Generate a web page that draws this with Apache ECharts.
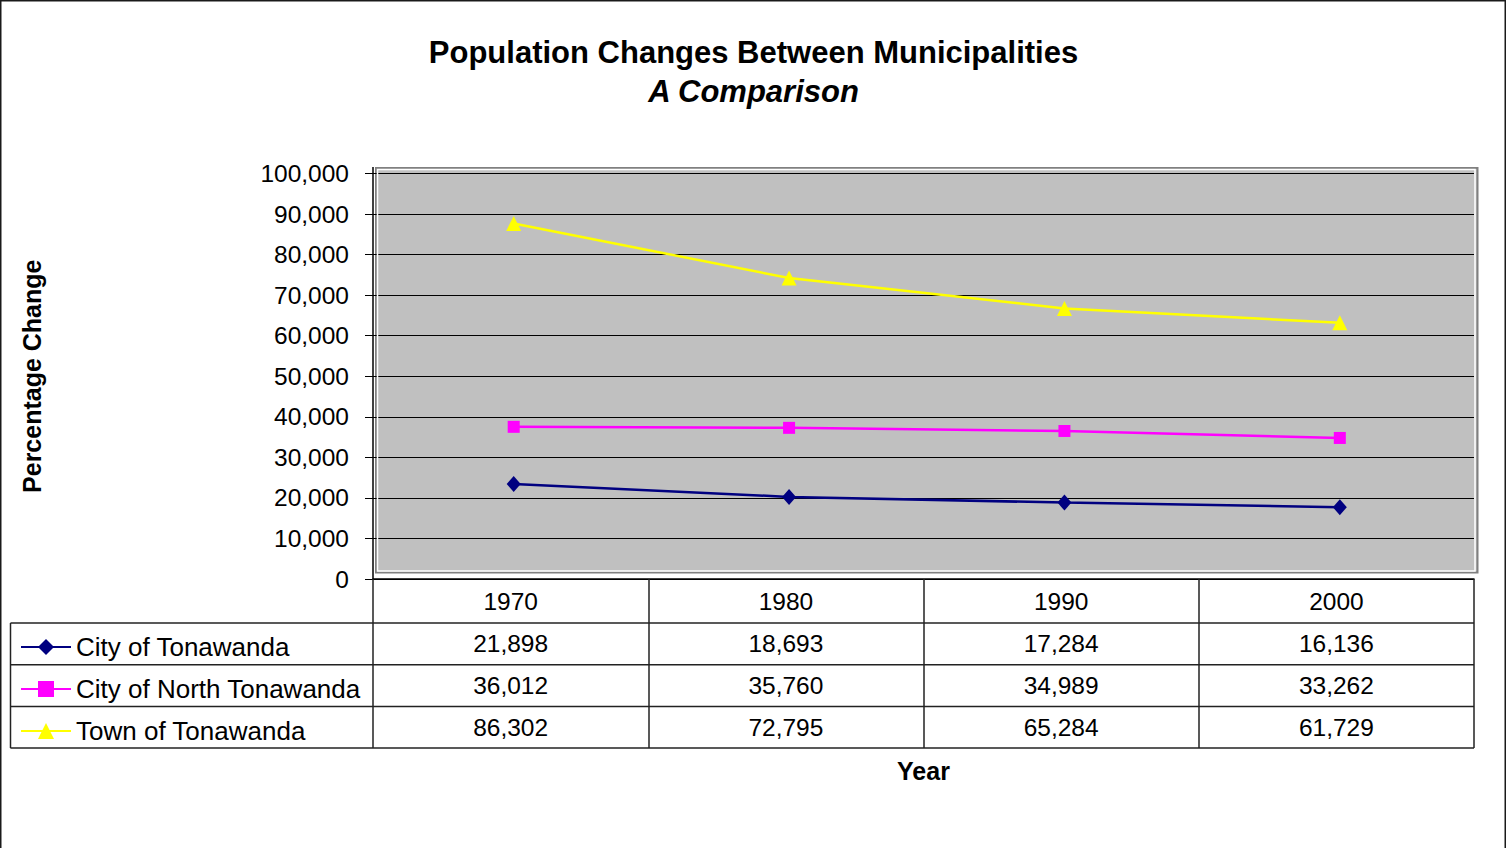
<!DOCTYPE html>
<html>
<head>
<meta charset="utf-8">
<script src="https://cdn.jsdelivr.net/npm/echarts@6/dist/echarts.min.js"></script>
<style>
  html, body { margin: 0; padding: 0; background: #fff; }
  #chart { width: 1507px; height: 848px; }
</style>
</head>
<body>
<div id="chart"></div>
<script>
const years = ['1970', '1980', '1990', '2000']
const cityOfTonawanda = [21898, 18693, 17284, 16136]
const cityOfNorthTonawanda = [36012, 35760, 34989, 33262]
const townOfTonawanda = [86302, 72795, 65284, 61729]
const seriesNames = ['City of Tonawanda', 'City of North Tonawanda', 'Town of Tonawanda']
const seriesValues = [cityOfTonawanda, cityOfNorthTonawanda, townOfTonawanda]
const seriesColors = ['#000080', '#FF00FF', '#FFFF00']
const seriesSymbols = ['diamond', 'rect', 'triangle']
const symbolSizes = [[14, 16], 12, 15]
const yMin = 0
const yMax = 100000
const yStep = 10000

const FONT = "'Liberation Sans', Arial, sans-serif"
const fmt = v => v.toLocaleString('en-US')

// table layout (pixels)
const tableTop = 579
const headerH = 44
const rowH = 41.7
const tableLeft = 10.5

const chart = echarts.init(document.getElementById('chart'), null, { renderer: 'svg' })

chart.setOption({
  animation: false,
  backgroundColor: '#fff',
  title: {
    text: 'Population Changes Between Municipalities',
    subtext: 'A Comparison',
    left: 'center',
    top: 32,
    itemGap: 8,
    textStyle: { fontFamily: FONT, fontSize: 31, fontWeight: 'bold', color: '#000' },
    subtextStyle: { fontFamily: FONT, fontSize: 31, fontWeight: 'bold', fontStyle: 'italic', color: '#000' }
  },
  legend: {
    orient: 'vertical',
    left: 15,
    top: 629,
    itemWidth: 50,
    itemHeight: 20,
    itemGap: 16,
    selectedMode: false,
    textStyle: { fontFamily: FONT, fontSize: 26, color: '#000' },
    data: seriesNames
  },
  grid: [
    // axes + table grid
    { left: 373, right: 33, top: 173.5, bottom: 848 - tableTop, show: false },
    // plot wall (shifted like the excel 3d wall)
    {
      left: 376, right: 29.5, top: 168, bottom: 275.5, show: true,
      backgroundColor: '#C0C0C0', borderColor: '#808080', borderWidth: 2
    }
  ],
  xAxis: [
    {
      type: 'category',
      gridIndex: 0,
      data: years,
      boundaryGap: true,
      name: 'Year',
      nameLocation: 'middle',
      nameGap: 179,
      nameTextStyle: { fontFamily: FONT, fontSize: 25, fontWeight: 'bold', color: '#000' },
      axisLine: { show: true, lineStyle: { color: '#000', width: 1.5 } },
      axisTick: { show: true, inside: false, length: 169, lineStyle: { color: '#222', width: 1.5 } },
      axisLabel: { fontFamily: FONT, fontSize: 24.5, color: '#000', margin: 10 },
      splitLine: { show: false }
    },
    {
      type: 'category',
      gridIndex: 1,
      data: years,
      boundaryGap: true,
      show: false
    }
  ],
  yAxis: [
    {
      type: 'value',
      gridIndex: 0,
      min: yMin,
      max: yMax,
      interval: yStep,
      name: 'Percentage Change',
      nameLocation: 'middle',
      nameRotate: 90,
      nameGap: 329,
      nameTextStyle: { fontFamily: FONT, fontSize: 25, fontWeight: 'bold', color: '#000' },
      axisLine: { show: true, lineStyle: { color: '#000', width: 1.5 } },
      axisTick: { show: true, inside: false, length: 8, lineStyle: { color: '#000', width: 1 } },
      axisLabel: { fontFamily: FONT, fontSize: 24.5, color: '#000', margin: 24, formatter: v => fmt(v) },
      splitLine: { show: true, lineStyle: { color: '#000', width: 1 } }
    },
    {
      type: 'value',
      gridIndex: 1,
      min: yMin,
      max: yMax,
      interval: yStep,
      show: false
    }
  ],
  series: seriesNames.map((name, i) => ({
    name,
    type: 'line',
    xAxisIndex: 1,
    yAxisIndex: 1,
    data: seriesValues[i],
    symbol: seriesSymbols[i],
    symbolSize: symbolSizes[i],
    showAllSymbol: true,
    lineStyle: { color: seriesColors[i], width: 2.5 },
    itemStyle: { color: seriesColors[i] },
    z: 3
  }))
})

// data table under the axis, built from the same arrays
const colW = chart.convertToPixel({ xAxisIndex: 0 }, 1) - chart.convertToPixel({ xAxisIndex: 0 }, 0)
const tableRight = chart.convertToPixel({ xAxisIndex: 0 }, 0) + colW * (years.length - 0.5)
const graphics = []

// outer chart border
graphics.push({
  type: 'rect',
  shape: { x: 0.75, y: 0.75, width: 1504.5, height: 900 },
  style: { fill: 'none', stroke: '#1a1a1a', lineWidth: 1.5 },
  silent: true
})

// inner highlight of the wall
graphics.push({
  type: 'rect',
  shape: { x: 377.5, y: 169.5, width: 1097.5, height: 401.5 },
  style: { fill: 'none', stroke: '#fff', lineWidth: 1.5 },
  silent: true
})

const rowsTop = tableTop + headerH
for (let r = 0; r <= seriesNames.length; r++) {
  const y = rowsTop + r * rowH
  graphics.push({
    type: 'line',
    shape: { x1: tableLeft, y1: y, x2: tableRight, y2: y },
    style: { stroke: '#222', lineWidth: 1.5 },
    silent: true
  })
}
graphics.push({
  type: 'line',
  shape: { x1: tableLeft, y1: rowsTop, x2: tableLeft, y2: rowsTop + seriesNames.length * rowH },
  style: { stroke: '#222', lineWidth: 1.5 },
  silent: true
})
// axis line continues up to the wall frame
graphics.push({
  type: 'line',
  shape: { x1: 373, y1: 167, x2: 373, y2: 174 },
  style: { stroke: '#000', lineWidth: 1.5 },
  silent: true
})

seriesValues.forEach((vals, i) => {
  vals.forEach((v, j) => {
    graphics.push({
      type: 'text',
      x: chart.convertToPixel({ xAxisIndex: 0 }, j),
      y: rowsTop + (i + 0.5) * rowH,
      style: {
        text: fmt(v),
        fontFamily: FONT,
        fontSize: 24.5,
        fill: '#000',
        align: 'center',
        verticalAlign: 'middle'
      },
      silent: true
    })
  })
})

chart.setOption({ graphic: graphics })
</script>
</body>
</html>
